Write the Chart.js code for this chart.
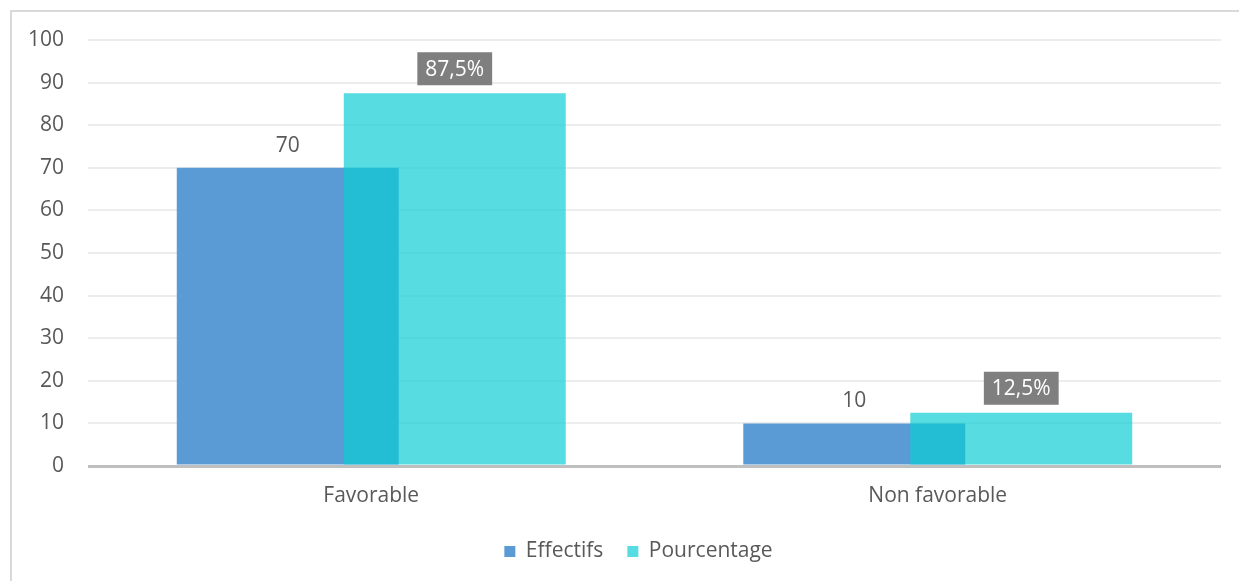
<!DOCTYPE html>
<html>
<head>
<meta charset="utf-8">
<script src="https://cdn.jsdelivr.net/npm/chart.js@4.4.1/dist/chart.umd.min.js"></script>
<style>
body{margin:0;overflow:hidden;background:#fff;}
#cadre{position:absolute;left:10px;top:10px;width:1300px;height:700px;border:2px solid #D9D9D9;}
#graph{position:absolute;left:0;top:0;}
</style>
</head>
<body>
<div id="cadre"></div>
<canvas id="graph" width="1239" height="581"></canvas>
<script>
var categories=['Favorable','Non favorable'];
var effectifs=[70,10];
var pourcentage=[87.5,12.5];
var yTicks={min:0,max:100,step:10};

var bleu='#5B9BD5';
var turquoise='rgba(10,205,212,0.69)';
var police='"Open Sans", Lato, sans-serif';
var taille=21;

function fmt(v){
    return String(v).replace('.',',')+'%';
}

// les barres bleues d'abord, puis les turquoises par-dessus
var ordreDessin={
    id:'ordreDessin',
    afterLayout:function(chart){
        // legende un peu decalee vers la droite
        chart.legend.left+=28;
        chart.legend.right+=28;
    },
    beforeDatasetsDraw:function(chart){
        chart.getDatasetMeta(0).controller.draw();
        chart.getDatasetMeta(1).controller.draw();
        return false;
    },
    afterDraw:function(chart){
        var ctx=chart.ctx;
        ctx.save();
        ctx.font=taille+'px '+police;
        ctx.textAlign='center';
        ctx.textBaseline='middle';
        var m0=chart.getDatasetMeta(0);
        m0.data.forEach(function(bar,i){
            ctx.fillStyle='#595959';
            ctx.fillText(String(effectifs[i]),bar.x,bar.y-22);
        });
        var m1=chart.getDatasetMeta(1);
        m1.data.forEach(function(bar,i){
            var txt=fmt(pourcentage[i]);
            var w=ctx.measureText(txt).width+16;
            var h=33;
            var bas=bar.y-8;
            ctx.fillStyle='#7F7F7F';
            ctx.fillRect(bar.x-w/2,bas-h,w,h);
            ctx.fillStyle='#FFFFFF';
            ctx.fillText(txt,bar.x,bas-h/2+1);
        });
        ctx.restore();
    }
};

var ctx1=document.getElementById('graph');
var graph=new Chart(ctx1,{
    type:'bar',
    data:{
        labels:categories,
        datasets:[{
            label:'Effectifs',
            data:effectifs,
            backgroundColor:bleu,
            borderWidth:0
        },{
            label:'Pourcentage',
            data:pourcentage,
            backgroundColor:turquoise,
            borderWidth:0
        }]
    },
    options:{
        responsive:false,
        animation:false,
        categoryPercentage:0.5896,
        barPercentage:1.329,
        layout:{padding:{left:0,top:40,right:18,bottom:9}},
        plugins:{
            legend:{
                position:'bottom',
                labels:{
                    boxWidth:11,
                    boxHeight:11,
                    padding:24,
                    color:'#595959',
                    font:{family:police,size:taille}
                }
            },
            tooltip:{enabled:false}
        },
        scales:{
            x:{
                grid:{display:false},
                border:{display:false},
                ticks:{color:'#595959',padding:9,font:{family:police,size:taille}},
                afterFit:function(scale){scale.height=51;}
            },
            y:{
                min:yTicks.min,
                max:yTicks.max,
                border:{display:false},
                grid:{
                    drawTicks:false,
                    color:function(c){return c.tick && c.tick.value===0?'#BFBFBF':'#EDEDED';},
                    lineWidth:function(c){return c.tick && c.tick.value===0?3:2;}
                },
                ticks:{stepSize:yTicks.step,color:'#595959',padding:24,font:{family:police,size:taille}},
                afterFit:function(scale){scale.width=88;}
            }
        }
    },
    plugins:[ordreDessin]
});
</script>
</body>
</html>
